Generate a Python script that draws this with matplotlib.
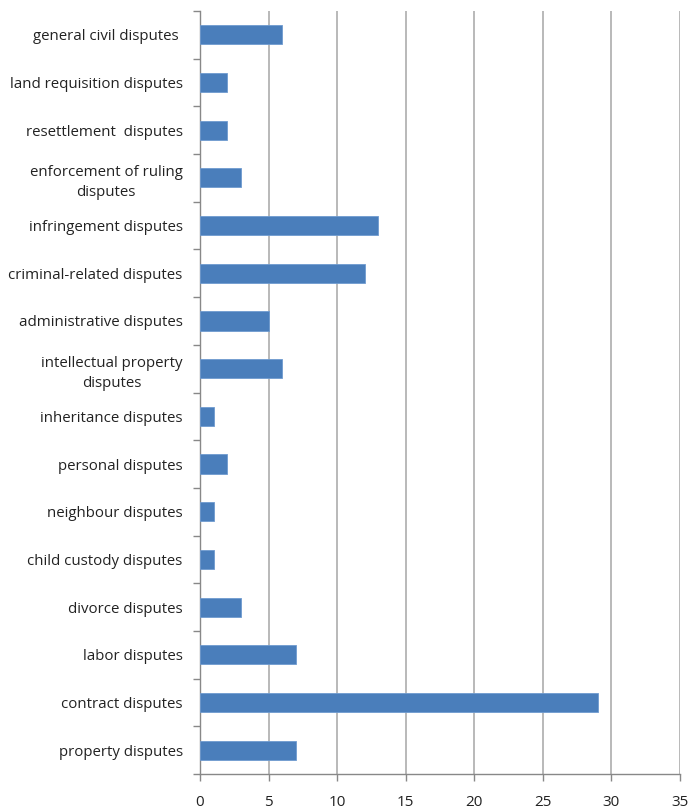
import matplotlib
matplotlib.use("Agg")
import matplotlib.pyplot as plt
import numpy as np

categories = [
    "property disputes",
    "contract disputes",
    "labor disputes",
    "divorce disputes",
    "child custody disputes",
    "neighbour disputes",
    "personal disputes",
    "inheritance disputes",
    "intellectual property\ndisputes",
    "administrative disputes",
    "criminal-related disputes",
    "infringement disputes",
    "enforcement of ruling\ndisputes",
    "resettlement  disputes",
    "land requisition disputes",
    "general civil disputes ",
]
values = [7, 29, 7, 3, 1, 1, 2, 1, 6, 5, 12, 13, 3, 2, 2, 6]
x_ticks = [0, 5, 10, 15, 20, 25, 30, 35]

plt.rcParams['font.family'] = ['Open Sans', 'DejaVu Sans']

fig = plt.figure(figsize=(6.88, 8.09), dpi=100)
ax = fig.add_axes([200/688, 35/809, 480/688, 763/809])

y = np.arange(len(categories))
ax.barh(y, values, height=0.4, color='#4a7ebb', edgecolor='#6f9bd0', linewidth=0.6, zorder=3)

ax.set_xlim(0, 35)
ax.set_ylim(-0.5, len(categories) - 0.5)
ax.set_xticks(x_ticks)
ax.set_xticklabels([str(t) for t in x_ticks], fontsize=11, color='#222222')
ax.set_yticks(y)
ax.set_yticklabels(categories, fontsize=10.8, color='#222222')
for lab in ax.get_yticklabels():
    lab.set_multialignment('center')
    lab.set_linespacing(1.45)
ax.set_yticks(np.arange(-0.5, len(categories), 1.0), minor=True)
ax.tick_params(axis='y', which='major', length=0, pad=12.5)
ax.tick_params(axis='y', which='minor', length=5, color='#888888', width=1)
ax.tick_params(axis='x', which='major', length=5, color='#888888', width=1, pad=10)

ax.grid(axis='x', color='#a6a6a6', linewidth=1.1, zorder=0)
for s in ['top', 'right']:
    ax.spines[s].set_visible(False)
for s in ['left', 'bottom']:
    ax.spines[s].set_color('#888888')
    ax.spines[s].set_linewidth(1)

fig.savefig('out.png', dpi=100)
